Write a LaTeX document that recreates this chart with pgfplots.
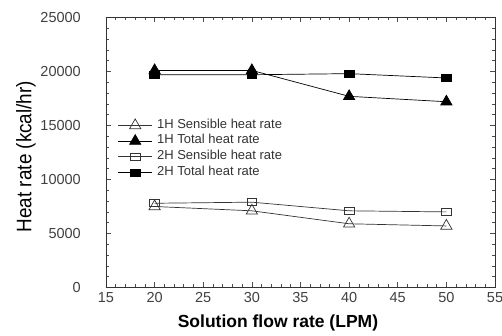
\documentclass[border=0pt]{standalone}
\usepackage{pgfplots}
\pgfplotsset{compat=1.18}
\usepackage{fontspec}
\setmainfont{Liberation Sans}
\newfontfamily\narrowfont[FakeStretch=0.9]{Liberation Sans}

\pgfplotstableread{
x    s1h   t1h    s2h   t2h
20   7500  20100  7800  19700
30   7100  20100  7900  19700
40   5900  17700  7100  19800
50   5700  17200  7000  19400
}\heatdata

\begin{document}
\begin{tikzpicture}
\path[use as bounding box] (-106pt,-48.5pt) rectangle (396pt,287.5pt);
\begin{axis}[
  at={(0,0)}, anchor=south west,
  scale only axis,
  width=389pt, height=270pt,
  xmin=15, xmax=55, ymin=0, ymax=25000,
  xtick={15,20,...,55},
  ytick={0,5000,...,25000},
  minor x tick num=4,
  minor y tick num=4,
  tick align=inside,
  ticks=both,
  xtick pos=both, ytick pos=both,
  major tick length=5pt,
  minor tick length=3pt,
  axis line style={black!80, line width=0.8pt},
  every tick/.style={black!70, line width=0.6pt},
  scaled y ticks=false,
  /pgf/number format/assume math mode=true,
  /pgf/number format/1000 sep={},
  tick label style={font=\fontsize{14.5}{16}\selectfont, text=black!75},
  yticklabel style={inner sep=0pt, anchor=east, xshift=-25pt},
  xticklabel style={inner sep=0pt, anchor=north, yshift=-5pt},
  xlabel={\bfseries Solution flow rate (LPM)},
  ylabel={\narrowfont Heat rate (kcal/hr)},
  xlabel style={font=\fontsize{17.5}{20}\selectfont, at={(axis description cs:0.442,0)}, anchor=center, yshift=-35.5pt},
  ylabel style={font=\fontsize{21}{24}\selectfont, at={(axis description cs:-0.206,0.485)}, anchor=center},
  legend style={draw=none, fill=none, at={(axis description cs:0.03,0.63)}, anchor=north west,
    font=\fontsize{13}{15}\selectfont, text=black!80, inner sep=0pt, row sep=0pt,
    nodes={inner xsep=1.5pt, inner ysep=0pt, text height=10.5pt, text depth=5.2pt},
    /tikz/every odd column/.append style={column sep=3pt}},
  legend cell align=left,
  legend image code/.code={%
    \draw[mark repeat=2, mark phase=2] plot coordinates {(0pt,0pt) (17pt,0pt) (34pt,0pt)};},
  every axis plot/.append style={line width=0.7pt, black},
]
\addplot[black!80, mark=triangle, mark size=6.5pt, mark options={fill=white, line width=0.7pt}] table[x=x, y=s1h] {\heatdata};
\addlegendentry{1H Sensible heat rate}
\addplot[black, mark=triangle*, mark size=6.5pt, mark options={fill=black}] table[x=x, y=t1h] {\heatdata};
\addlegendentry{1H Total heat rate}
\addplot[black!80, mark=square, mark size=4.8pt, mark options={fill=white, yscale=0.72, line width=0.7pt}] table[x=x, y=s2h] {\heatdata};
\addlegendentry{2H Sensible heat rate}
\addplot[black, mark=square*, mark size=4.8pt, mark options={fill=black, yscale=0.72}] table[x=x, y=t2h] {\heatdata};
\addlegendentry{2H Total heat rate}
\end{axis}
\end{tikzpicture}
\end{document}
